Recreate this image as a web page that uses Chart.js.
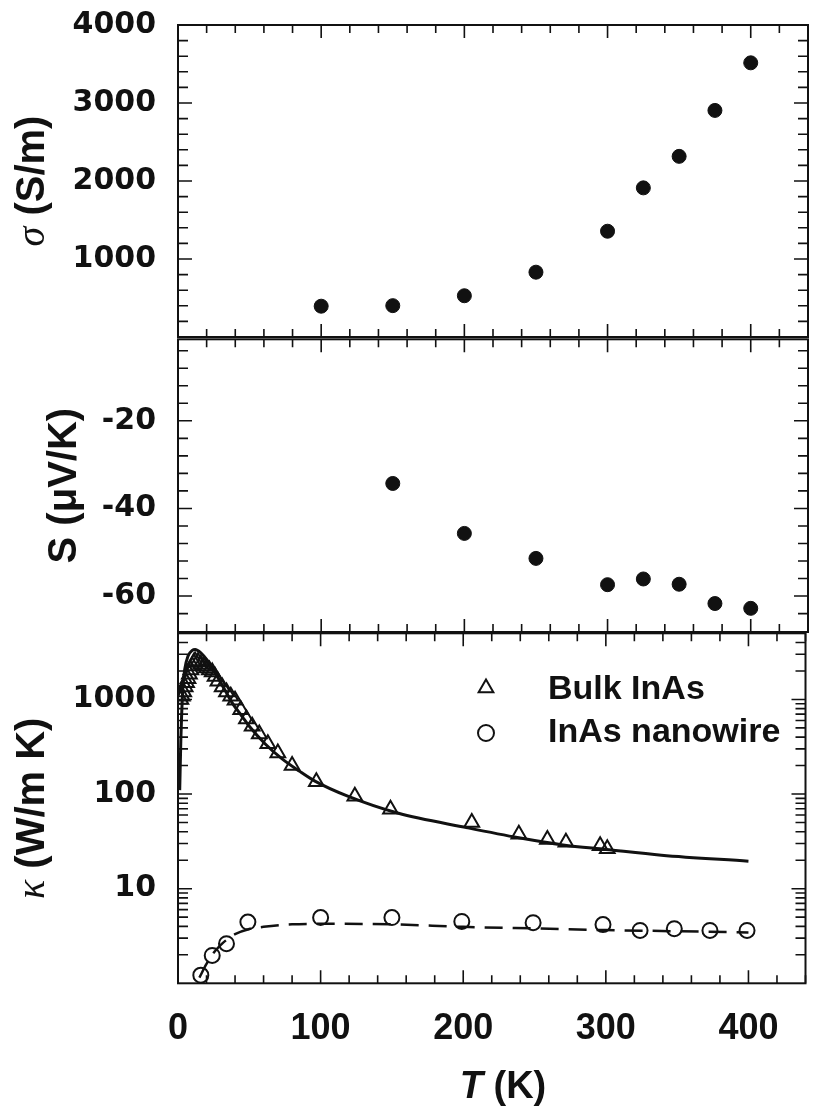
<!DOCTYPE html>
<html>
<head>
<meta charset="utf-8">
<title>InAs transport vs temperature</title>
<script src="https://cdn.jsdelivr.net/npm/chart.js@4.4.1/dist/chart.umd.min.js"></script>
<style>
  html, body { margin: 0; padding: 0; background: #fff; }
  #page { position: relative; width: 816px; height: 1111px; overflow: hidden; }
  .panel { position: absolute; left: 0; }
  .panel canvas { display: block; }
</style>
</head>
<body>
<div id="page">
  <div class="panel" style="top:0"><canvas id="sigmaChart" width="816" height="345"></canvas></div>
  <div class="panel" style="top:330px"><canvas id="seebeckChart" width="816" height="310"></canvas></div>
  <div class="panel" style="top:600px"><canvas id="kappaChart" width="816" height="511"></canvas></div>
</div>
<script>
// ---- shared temperature axis ----
const tempMin = 0;
const tempMax = 440;
const tempTicks = [0, 100, 200, 300, 400];

// ---- electrical conductivity (S/m) ----
const sigmaT = [100, 150, 200, 250, 300, 325, 350, 375, 400];
const sigmaVals = [395, 402, 529, 831, 1356, 1912, 2316, 2905, 3515];
const sigmaTicks = [1000, 2000, 3000, 4000];

// ---- Seebeck coefficient (uV/K) ----
const seebeckT = [150, 200, 250, 300, 325, 350, 375, 400];
const seebeckVals = [-34.3, -45.7, -51.4, -57.4, -56.1, -57.3, -61.7, -62.8];
const seebeckTicks = [-60, -40, -20];

// ---- thermal conductivity (W/m K) ----
const bulkT = [2, 3, 4, 5, 6, 7, 8, 9, 10, 11, 12, 14, 16, 18, 20, 22, 24, 26, 28, 31, 34, 37, 40,
               44, 48, 52, 57, 63, 70, 80, 97, 124, 149, 206, 239, 259, 272, 296, 301];
const bulkKappa = [1000, 1080, 1200, 1350, 1500, 1650, 1850, 2050, 2250, 2450, 2550, 2500, 2350, 2250,
                   2150, 2050, 1950, 1750, 1560, 1350, 1200, 1080, 980, 780, 620, 520, 430, 340, 272,
                   200, 135, 95, 69, 50, 37.5, 33, 31, 28.5, 26.5];
const bulkFitT = [1.2, 2, 2.5, 3.5, 4.7, 7, 10, 12, 16, 21, 27, 33, 38, 45, 50, 61, 73, 85, 96, 119,
                  154, 203, 239, 270, 300, 339, 400];
const bulkFitKappa = [110, 380, 650, 1380, 2070, 2870, 3300, 3370, 3110, 2540, 1800, 1250, 920, 660,
                      520, 340, 235, 175, 137, 95, 63, 44, 34.5, 29, 26, 22.6, 19.5];
const wireT = [16, 24, 34, 49, 100, 150, 199, 249, 298, 324, 348, 373, 399];
const wireKappa = [1.22, 1.97, 2.62, 4.44, 4.95, 4.95, 4.51, 4.37, 4.17, 3.62, 3.78, 3.62, 3.62];
const wireFitT = [15, 20, 25, 30, 35, 40, 50, 60, 80, 100, 150, 200, 250, 300, 350, 400];
const wireFitKappa = [1.15, 1.6, 2.1, 2.55, 2.95, 3.3, 3.75, 3.95, 4.2, 4.25, 4.2, 3.95, 3.8, 3.65, 3.55, 3.45];
const kappaTicks = [10, 100, 1000];

const INK = '#111';
const AXIS_W = 178;       // left edge of each plot box
const RIGHT_PAD = 3;
const X_AXIS_H = 127.7;

const tickFont = { family: "'DejaVu Sans'", size: 30, weight: 'bold' };
const xTickFont = { family: "'Liberation Sans'", size: 36, weight: 'bold' };
const titleFont = "bold 40px 'Liberation Sans'";
const greekFont = "italic 40px 'Liberation Serif'";

const pts = (xs, ys) => xs.map((x, i) => ({ x, y: ys[i] }));

// minor tick positions
const tempMinor = [];
for (let t = 20; t <= tempMax; t += 20) if (t % 100) tempMinor.push(t);
const sigmaMinor = [];
for (let v = 200; v < 4000; v += 200) if (v % 1000) sigmaMinor.push(v);
const seebeckMinor = [];
for (let v = -64; v <= -4; v += 4) if (v % 20) seebeckMinor.push(v);
const kappaMinor = [];
for (let e = 0; e <= 3; e++) for (let d = 2; d <= 9; d++) if (d * 10 ** e <= 5000) kappaMinor.push(d * 10 ** e);

function drawRotatedTitle(ctx, parts, cx, cy) {
  ctx.save();
  ctx.translate(cx, cy);
  ctx.rotate(-Math.PI / 2);
  ctx.textBaseline = 'middle';
  ctx.textAlign = 'left';
  ctx.fillStyle = INK;
  let total = 0;
  const widths = parts.map(p => { ctx.font = p.font; const w = ctx.measureText(p.text).width; total += w; return w; });
  let x = -total / 2;
  parts.forEach((p, i) => { ctx.font = p.font; ctx.fillText(p.text, x, 0); x += widths[i]; });
  ctx.restore();
}

// box, inward ticks on all four sides, and the rotated y title
function framePlugin(spec) {
  return {
    id: 'panelFrame',
    afterDraw(chart) {
      const { ctx, chartArea: a } = chart;
      const xs = chart.scales.x, ys = chart.scales.y;
      ctx.save();
      ctx.strokeStyle = INK;
      ctx.lineWidth = 1.6;
      ctx.beginPath();
      const vTick = (v, len) => {
        const p = xs.getPixelForValue(v);
        ctx.moveTo(p, a.top); ctx.lineTo(p, a.top + len);
        ctx.moveTo(p, a.bottom); ctx.lineTo(p, a.bottom - len);
      };
      const hTick = (v, len) => {
        const p = ys.getPixelForValue(v);
        ctx.moveTo(a.left, p); ctx.lineTo(a.left + len, p);
        ctx.moveTo(a.right, p); ctx.lineTo(a.right - len, p);
      };
      tempTicks.forEach(v => vTick(v, 13));
      tempMinor.forEach(v => vTick(v, 8));
      spec.yMajor.forEach(v => hTick(v, 14));
      spec.yMinor.forEach(v => hTick(v, 10));
      ctx.stroke();
      ctx.lineWidth = 2;
      ctx.strokeRect(a.left, a.top, a.right - a.left, a.bottom - a.top);
      ctx.restore();
      drawRotatedTitle(ctx, spec.title, spec.titleX, (a.top + a.bottom) / 2);
      if (spec.after) spec.after(chart);
    }
  };
}

function panelOptions(yScale, padTop, padBottom, showX) {
  return {
    responsive: false,
    animation: false,
    events: [],
    layout: { padding: { left: 0, right: RIGHT_PAD, top: padTop, bottom: padBottom } },
    plugins: { legend: { display: false }, tooltip: { enabled: false } },
    scales: {
      x: {
        type: 'linear', min: tempMin, max: tempMax, display: showX,
        grid: { display: false, drawTicks: false }, border: { display: false },
        afterBuildTicks: s => { s.ticks = tempTicks.map(v => ({ value: v })); },
        afterFit: s => { s.height = showX ? X_AXIS_H : 0; s.paddingLeft = 0; s.paddingRight = 0; },
        ticks: { font: xTickFont, color: INK, padding: 24, maxRotation: 0, autoSkip: false, callback: v => String(v) }
      },
      y: Object.assign({
        grid: { display: false, drawTicks: false }, border: { display: false },
        // keep the plot box exactly where the layout padding puts it
        afterFit: s => { s.width = AXIS_W; s.paddingTop = 0; s.paddingBottom = 0; },
        ticks: { font: tickFont, color: INK, padding: 22, autoSkip: false, callback: v => String(v) }
      }, yScale)
    }
  };
}

const filledDot = { pointStyle: 'circle', pointRadius: 7, backgroundColor: INK, borderColor: INK, borderWidth: 1 };

// ---- panel 1: sigma ----
new Chart(document.getElementById('sigmaChart'), {
  type: 'scatter',
  data: { datasets: [Object.assign({ data: pts(sigmaT, sigmaVals) }, filledDot)] },
  options: panelOptions({
    type: 'linear', min: 0, max: 4000,
    afterBuildTicks: s => { s.ticks = sigmaTicks.map(v => ({ value: v })); }
  }, 25, 5.7, false),
  plugins: [framePlugin({
    yMajor: sigmaTicks, yMinor: sigmaMinor, titleX: 33,
    title: [{ text: 'σ', font: greekFont }, { text: ' (S/m)', font: titleFont }]
  })]
});

// ---- panel 2: Seebeck ----
new Chart(document.getElementById('seebeckChart'), {
  type: 'scatter',
  data: { datasets: [Object.assign({ data: pts(seebeckT, seebeckVals) }, filledDot)] },
  options: panelOptions({
    type: 'linear', min: -68.2, max: -1.4,
    afterBuildTicks: s => { s.ticks = seebeckTicks.map(v => ({ value: v })); }
  }, 9.3, 6.7, false),
  plugins: [framePlugin({
    yMajor: seebeckTicks, yMinor: seebeckMinor, titleX: 65,
    title: [{ text: 'S (μV/K)', font: titleFont }]
  })]
});

// ---- panel 3: kappa, log axis ----
function drawLegend(chart) {
  const ctx = chart.ctx;
  const mx = 486, tx = 548;
  ctx.save();
  ctx.strokeStyle = INK;
  ctx.lineWidth = 2;
  // triangle
  const r = 8.5, ty = 88;
  ctx.beginPath();
  ctx.moveTo(mx, ty - r);
  ctx.lineTo(mx + r * Math.sin(2 * Math.PI / 3), ty + r / 2);
  ctx.lineTo(mx - r * Math.sin(2 * Math.PI / 3), ty + r / 2);
  ctx.closePath();
  ctx.stroke();
  // circle
  ctx.beginPath();
  ctx.arc(mx, 133, 8, 0, Math.PI * 2);
  ctx.stroke();
  ctx.fillStyle = INK;
  ctx.font = "bold 34px 'Liberation Sans'";
  ctx.textBaseline = 'middle';
  ctx.textAlign = 'left';
  ctx.fillText('Bulk InAs', tx, 90);
  ctx.fillText('InAs nanowire', tx, 133);
  // x title: italic T with upright unit
  ctx.font = "italic bold 38px 'Liberation Sans'";
  const tW = ctx.measureText('T').width;
  ctx.font = "bold 38px 'Liberation Sans'";
  const uW = ctx.measureText(' (K)').width;
  const x0 = 503 - (tW + uW) / 2;
  ctx.font = "italic bold 38px 'Liberation Sans'";
  ctx.fillText('T', x0, 488);
  ctx.font = "bold 38px 'Liberation Sans'";
  ctx.fillText(' (K)', x0 + tW, 488);
  ctx.restore();
}

new Chart(document.getElementById('kappaChart'), {
  type: 'scatter',
  data: {
    datasets: [
      { data: pts(bulkT, bulkKappa), pointStyle: 'triangle', pointRadius: 8.5, borderWidth: 2,
        borderColor: INK, backgroundColor: 'rgba(0,0,0,0)' },
      { data: pts(wireT, wireKappa), pointStyle: 'circle', pointRadius: 7.5, borderWidth: 2,
        borderColor: INK, backgroundColor: 'rgba(0,0,0,0)' },
      { data: pts(bulkFitT, bulkFitKappa), showLine: true, pointRadius: 0, borderWidth: 3,
        borderColor: INK, cubicInterpolationMode: 'monotone' },
      { data: pts(wireFitT, wireFitKappa), showLine: true, pointRadius: 0, borderWidth: 2.5,
        borderColor: INK, borderDash: [18, 10], cubicInterpolationMode: 'monotone' }
    ]
  },
  options: panelOptions({
    type: 'logarithmic', min: 1, max: 5000,
    afterBuildTicks: s => { s.ticks = kappaTicks.map(v => ({ value: v })); }
  }, 33.3, 0, true),
  plugins: [framePlugin({
    yMajor: kappaTicks, yMinor: kappaMinor, titleX: 33,
    title: [{ text: 'κ', font: greekFont }, { text: ' (W/m K)', font: titleFont }],
    after: drawLegend
  })]
});
</script>
</body>
</html>
